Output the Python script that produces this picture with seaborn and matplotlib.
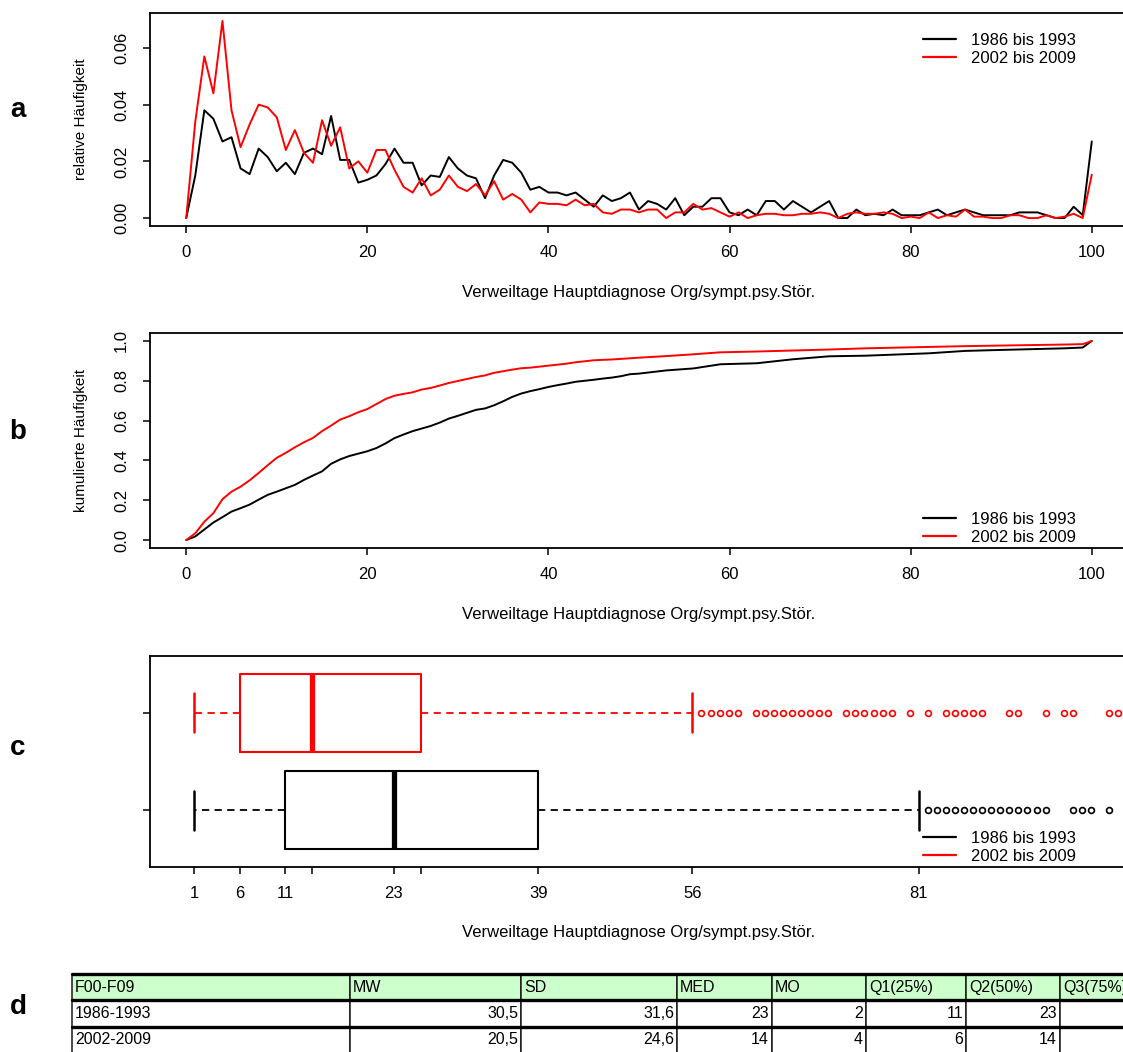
import matplotlib
matplotlib.use("Agg")
import matplotlib.pyplot as plt
from matplotlib.lines import Line2D
from matplotlib.table import Table
import pandas as pd
import seaborn as sns

sns.set_theme(style="white")
plt.rcParams["font.family"] = ["Liberation Sans", "DejaVu Sans"]
plt.rcParams.update({"text.color": "black", "axes.labelcolor": "black",
                     "xtick.color": "black", "ytick.color": "black"})

# ---- data ----
periods = ["1986 bis 1993", "2002 bis 2009"]
colors = ["black", "red"]

days = list(range(101))
rel_1986 = [0.000, 0.015, 0.038, 0.035, 0.027, 0.0285, 0.0175, 0.0155, 0.0245, 0.0215,
            0.0165, 0.0195, 0.0155, 0.023, 0.0245, 0.0225, 0.036, 0.0205, 0.0205, 0.0125,
            0.0135, 0.015, 0.019, 0.0245, 0.0195, 0.0195, 0.0115, 0.015, 0.0145, 0.0215,
            0.0175, 0.015, 0.014, 0.007, 0.015, 0.0205, 0.0195, 0.016, 0.010, 0.011,
            0.009, 0.009, 0.008, 0.009, 0.0065, 0.004, 0.008, 0.006, 0.007, 0.009,
            0.003, 0.006, 0.005, 0.003, 0.007, 0.001, 0.004, 0.004, 0.007, 0.007,
            0.002, 0.001, 0.003, 0.001, 0.006, 0.006, 0.003, 0.006, 0.004, 0.002,
            0.004, 0.006, 0.000, 0.000, 0.003, 0.001, 0.0015, 0.001, 0.003, 0.001,
            0.001, 0.001, 0.002, 0.003, 0.001, 0.002, 0.003, 0.002, 0.001, 0.001,
            0.001, 0.001, 0.002, 0.002, 0.002, 0.001, 0.000, 0.000, 0.004, 0.001,
            0.027]
rel_2002 = [0.000, 0.034, 0.057, 0.044, 0.0695, 0.038, 0.025, 0.033, 0.040, 0.039,
            0.0355, 0.024, 0.031, 0.023, 0.0195, 0.0345, 0.0255, 0.032, 0.0175, 0.020,
            0.016, 0.024, 0.024, 0.017, 0.011, 0.009, 0.014, 0.008, 0.010, 0.015,
            0.011, 0.0095, 0.012, 0.008, 0.013, 0.0065, 0.0085, 0.0065, 0.002, 0.0055,
            0.005, 0.005, 0.0045, 0.0065, 0.0045, 0.005, 0.002, 0.0015, 0.003, 0.003,
            0.002, 0.003, 0.003, 0.000, 0.002, 0.002, 0.005, 0.003, 0.0035, 0.002,
            0.0005, 0.002, 0.000, 0.001, 0.0015, 0.0015, 0.001, 0.001, 0.0015, 0.0015,
            0.002, 0.0015, 0.000, 0.0015, 0.002, 0.0015, 0.0015, 0.002, 0.0015, 0.000,
            0.0005, 0.000, 0.002, 0.000, 0.001, 0.0005, 0.003, 0.0005, 0.0005, 0.000,
            0.000, 0.001, 0.001, 0.000, 0.000, 0.001, 0.000, 0.0005, 0.0015, 0.000,
            0.0153]

cum_days = list(range(51)) + [53, 56, 59, 63, 67, 71, 75, 82, 86, 90, 97, 99, 100]
cum_1986 = [0.0, 0.018, 0.053, 0.088, 0.115, 0.143, 0.160, 0.178, 0.203, 0.227,
            0.243, 0.260, 0.277, 0.302, 0.324, 0.345, 0.383, 0.405, 0.422, 0.434,
            0.446, 0.462, 0.485, 0.512, 0.530, 0.547, 0.560, 0.573, 0.590, 0.610,
            0.624, 0.639, 0.654, 0.661, 0.677, 0.697, 0.719, 0.736, 0.748, 0.758,
            0.769, 0.778, 0.786, 0.795, 0.800, 0.805, 0.811, 0.816, 0.823, 0.833,
            0.836, 0.852, 0.862, 0.883, 0.888, 0.908, 0.923, 0.926, 0.938, 0.950,
            0.955, 0.963, 0.967, 1.0]
cum_2002 = [0.0, 0.034, 0.092, 0.135, 0.205, 0.243, 0.268, 0.300, 0.337, 0.376,
            0.413, 0.438, 0.466, 0.491, 0.513, 0.547, 0.575, 0.605, 0.622, 0.642,
            0.658, 0.683, 0.708, 0.725, 0.734, 0.742, 0.756, 0.764, 0.776, 0.789,
            0.799, 0.809, 0.819, 0.827, 0.840, 0.848, 0.856, 0.863, 0.866, 0.871,
            0.876, 0.881, 0.886, 0.893, 0.898, 0.903, 0.905, 0.907, 0.910, 0.913,
            0.916, 0.924, 0.933, 0.943, 0.947, 0.952, 0.957, 0.963, 0.970, 0.974,
            0.977, 0.982, 0.984, 1.0]

# boxplot: whisker low, Q1, median, Q3, whisker high
box_1986 = [1, 11, 23, 39, 81]
box_2002 = [1, 6, 14, 26, 56]
fliers_1986 = [82, 83, 84, 85, 86, 87, 88, 89, 90, 91, 92, 93, 94, 95, 98, 99, 100, 102]
fliers_2002 = [57, 58, 59, 60, 61, 63, 64, 65, 66, 67, 68, 69, 70, 71, 73, 74, 75, 76, 77, 78,
               80, 82, 84, 85, 86, 87, 88, 91, 92, 95, 97, 98, 102, 103]
box_ticks = [1, 6, 11, 14, 23, 26, 39, 56, 81]
box_tick_labels = ["1", "6", "11", "", "23", "", "39", "56", "81"]

tab_header = ["F00-F09", "MW", "SD", "MED", "MO", "Q1(25%)", "Q2(50%)", "Q3(75%)"]
tab_1986 = ["1986-1993", "30,5", "31,6", "23", "2", "11", "23", "39"]
tab_2002 = ["2002-2009", "20,5", "24,6", "14", "4", "6", "14", "26"]

xlabel = "Verweiltage Hauptdiagnose Org/sympt.psy.Stör."

# ---- layout (pixels of a 1123 x 1052 canvas) ----
W, H = 1123, 1052
fig = plt.figure(figsize=(W / 100, H / 100), dpi=100)


def px_axes(left, top, right, bottom):
    return fig.add_axes([left / W, 1 - bottom / H, (right - left) / W, (bottom - top) / H])


def style_axes(ax):
    for s in ax.spines.values():
        s.set_visible(True)
        s.set_color("black")
        s.set_linewidth(1.3)
    ax.tick_params(direction="out", length=5, width=1.1, color="black",
                   labelsize=12, bottom=True, left=True)
    ax.tick_params(axis="x", pad=9)
    ax.tick_params(axis="y", pad=10)
    ax.grid(False)


def add_legend(ax, ypos, handles=None):
    leg = ax.legend(handles=handles, loc="center left", bbox_to_anchor=(0.79, ypos),
                    frameon=False, fontsize=12, handlelength=2.0, handletextpad=0.9,
                    labelspacing=0.2, borderaxespad=0, borderpad=0)
    for line in leg.get_lines():
        line.set_linewidth(1.6)


# panel a
ax_a = px_axes(150, 13, 1128, 226)
df_rel = pd.DataFrame({"Tag": days * 2,
                       "Wert": rel_1986 + rel_2002,
                       "Zeitraum": [periods[0]] * len(days) + [periods[1]] * len(days)})
sns.lineplot(data=df_rel, x="Tag", y="Wert", hue="Zeitraum", palette=colors,
             linewidth=1.4, ax=ax_a)
ax_a.set_xlim(-4, 104)
ax_a.set_ylim(-0.0028, 0.0723)
ax_a.set_xticks([0, 20, 40, 60, 80, 100])
ax_a.set_yticks([0.0, 0.02, 0.04, 0.06])
ax_a.set_yticklabels(["0.00", "0.02", "0.04", "0.06"])
style_axes(ax_a)
ax_a.set_ylabel("relative Häufigkeit", fontsize=11)
add_legend(ax_a, 0.83)

# panel b
ax_b = px_axes(150, 333, 1128, 548)
df_cum = pd.DataFrame({"Tag": cum_days * 2,
                       "Wert": cum_1986 + cum_2002,
                       "Zeitraum": [periods[0]] * len(cum_days) + [periods[1]] * len(cum_days)})
sns.lineplot(data=df_cum, x="Tag", y="Wert", hue="Zeitraum", palette=colors,
             linewidth=1.4, ax=ax_b)
ax_b.set_xlim(-4, 104)
ax_b.set_ylim(-0.04, 1.04)
ax_b.set_xticks([0, 20, 40, 60, 80, 100])
ax_b.set_yticks([0.0, 0.2, 0.4, 0.6, 0.8, 1.0])
ax_b.set_yticklabels(["0.0", "0.2", "0.4", "0.6", "0.8", "1.0"])
style_axes(ax_b)
ax_b.set_ylabel("kumulierte Häufigkeit", fontsize=11)
add_legend(ax_b, 0.09)

# panel c
ax_c = px_axes(150, 656, 1128, 867)
for pos, st, fl, col in [(1, box_1986, fliers_1986, colors[0]), (2, box_2002, fliers_2002, colors[1])]:
    stats = [{"whislo": st[0], "q1": st[1], "med": st[2], "q3": st[3], "whishi": st[4], "fliers": fl}]
    kw = dict(positions=[pos], widths=0.8, capwidths=0.4, manage_ticks=False,
              boxprops=dict(color=col, linewidth=1.5),
              medianprops=dict(color=col, linewidth=3.8, solid_capstyle="butt"),
              whiskerprops=dict(color=col, linewidth=1.3, linestyle=(0, (4, 3))),
              capprops=dict(color=col, linewidth=1.8),
              flierprops=dict(marker="o", markerfacecolor="none", markeredgecolor=col,
                              markersize=4.2, markeredgewidth=1.2))
    try:
        ax_c.bxp(stats, orientation="horizontal", **kw)
    except TypeError:
        ax_c.bxp(stats, vert=False, **kw)
ax_c.set_xlim(-3.9, 104.1)
ax_c.set_ylim(0.42, 2.58)
ax_c.set_yticks([1, 2])
ax_c.set_yticklabels(["", ""])
ax_c.set_xticks(box_ticks)
ax_c.set_xticklabels(box_tick_labels)
style_axes(ax_c)
handles = [Line2D([], [], color=c, label=p) for c, p in zip(colors, periods)]
add_legend(ax_c, 0.092, handles=handles)

for ax in (ax_a, ax_b, ax_c):
    ax.set_xlabel(xlabel, fontsize=12, va="center")
    ax.xaxis.set_label_coords(0.5, -66 / 213)
    plt.setp(ax.get_yticklabels(), rotation=90, va="center")
for ax in (ax_a, ax_b):
    ax.yaxis.set_label_coords(-62 / 978, 0.5)

# panel d: table
ax_d = px_axes(72, 974, 1155, 1053)
ax_d.set_xlim(0, 1)
ax_d.set_ylim(0, 1)
ax_d.axis("off")
col_px = [278, 171, 156, 95, 94, 100, 94, 95]
col_w = [c / sum(col_px) for c in col_px]
tbl = Table(ax_d, bbox=[0, 0, 1, 1])
for r, row in enumerate([tab_header, tab_1986, tab_2002]):
    for c, txt in enumerate(row):
        loc = "left" if (r == 0 or c == 0) else "right"
        cell = tbl.add_cell(r, c, width=col_w[c], height=1 / 3, text=txt, loc=loc,
                            facecolor="#ccffcc" if r == 0 else "white")
        cell.PAD = 3 / (col_px[c])
        cell.set_linewidth(1.1)
tbl.auto_set_font_size(False)
tbl.set_fontsize(11.5)
ax_d.add_table(tbl)
for yy in (1.0, 2 / 3, 1 / 3):
    ax_d.axhline(yy, color="black", linewidth=2.4, clip_on=False)

# panel letters
for letter, ypx in zip("abcd", [110, 432, 748, 1007]):
    fig.text(18 / W, 1 - ypx / H, letter, fontsize=20, fontweight="bold",
             ha="center", va="center", color="black")

fig.savefig("out.png", dpi=100)
